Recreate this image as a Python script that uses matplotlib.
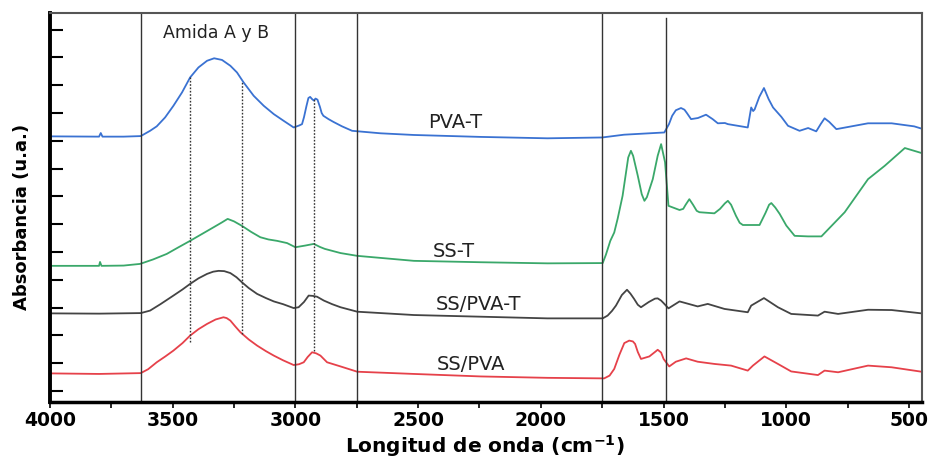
import matplotlib
matplotlib.use("Agg")
import matplotlib.pyplot as plt
import numpy as np

# wavenumbers (cm-1) and absorbance (a.u., offset traces)
pva_t_wn = [4000, 3800, 3793, 3786, 3700, 3630, 3592, 3565, 3531, 3497, 3462, 3429,
            3395, 3360, 3331, 3299, 3265, 3238, 3211, 3170, 3129, 3088, 3048, 3007,
            2985, 2973, 2965, 2955, 2947, 2940, 2932, 2925, 2918, 2910, 2900, 2893,
            2886, 2865, 2845, 2810, 2769, 2653, 2518, 2245, 1973, 1750, 1661, 1497,
            1478, 1465, 1450, 1429, 1415, 1405, 1388, 1360, 1327, 1300, 1279, 1250,
            1238, 1157, 1143, 1135, 1129, 1110, 1091, 1072, 1054, 1020, 993, 946, 911,
            878, 860, 844, 825, 796, 667, 571, 479, 442]
pva_t_abs = [9.56, 9.55, 9.68, 9.55, 9.55, 9.57, 9.76, 9.92, 10.24, 10.66, 11.14, 11.68,
             12.04, 12.28, 12.37, 12.31, 12.10, 11.86, 11.50, 11.02, 10.66, 10.36, 10.12, 9.88,
             9.95, 10.00, 10.25, 10.65, 10.94, 10.98, 10.90, 10.85, 10.92, 10.88, 10.62, 10.40,
             10.30, 10.18, 10.08, 9.92, 9.76, 9.67, 9.61, 9.54, 9.49, 9.52, 9.62, 9.70,
             10.00, 10.30, 10.50, 10.58, 10.52, 10.40, 10.18, 10.22, 10.34, 10.18, 10.03, 10.04,
             10.00, 9.88, 10.60, 10.47, 10.53, 10.98, 11.30, 10.90, 10.60, 10.26, 9.94, 9.76, 9.86,
             9.74, 10.00, 10.21, 10.08, 9.82, 10.03, 10.03, 9.92, 9.82]

ss_t_wn = [4000, 3800, 3796, 3790, 3700, 3633, 3580, 3524, 3480, 3429, 3380, 3333,
           3300, 3276, 3250, 3218, 3180, 3143, 3110, 3075, 3034, 3000, 2960, 2925,
           2900, 2880, 2816, 2748, 2517, 2245, 1973, 1748, 1735, 1717, 1701,
           1687, 1667, 1644, 1633, 1624, 1605, 1589, 1578, 1568, 1544, 1524, 1510,
           1494, 1480, 1435, 1420, 1410, 1395, 1380, 1365, 1354, 1293, 1270, 1250,
           1238, 1225, 1205, 1190, 1177, 1109, 1085, 1070, 1061, 1045, 1027, 1000,
           966, 911, 857, 762, 667, 599, 517, 449]
ss_t_abs = [4.90, 4.90, 5.04, 4.90, 4.91, 4.97, 5.13, 5.33, 5.55, 5.80, 6.05, 6.29,
            6.46, 6.59, 6.50, 6.34, 6.12, 5.93, 5.85, 5.80, 5.72, 5.57, 5.63, 5.69,
            5.58, 5.51, 5.36, 5.26, 5.08, 5.03, 4.99, 5.00, 5.30, 5.80, 6.10,
            6.60, 7.42, 8.80, 9.04, 8.86, 8.14, 7.48, 7.24, 7.37, 8.02, 8.86, 9.28,
            8.63, 7.06, 6.91, 6.95, 7.10, 7.30, 7.10, 6.88, 6.83, 6.79, 6.95, 7.15,
            7.24, 7.10, 6.70, 6.45, 6.37, 6.37, 6.80, 7.10, 7.16, 7.00, 6.77, 6.35,
            5.98, 5.96, 5.96, 6.83, 8.02, 8.50, 9.14, 8.96]

ss_pva_t_wn = [4000, 3800, 3630, 3592, 3550, 3497, 3460, 3429, 3395, 3360, 3335, 3313,
               3290, 3265, 3240, 3218, 3190, 3156, 3120, 3088, 3050, 3007, 2987, 2965,
               2946, 2930, 2912, 2884, 2850, 2816, 2748, 2517, 2245, 1973, 1748, 1728,
               1710, 1694, 1670, 1649, 1635, 1620, 1605, 1592, 1560, 1535, 1524, 1510,
               1500, 1480, 1435, 1361, 1320, 1252, 1157, 1143, 1091, 1034, 980, 871,
               844, 789, 667, 571, 449]
ss_pva_t_abs = [3.19, 3.18, 3.20, 3.29, 3.52, 3.83, 4.05, 4.25, 4.45, 4.61, 4.69, 4.72,
                4.71, 4.64, 4.49, 4.31, 4.10, 3.89, 3.74, 3.62, 3.52, 3.38, 3.41, 3.60,
                3.83, 3.82, 3.79, 3.65, 3.52, 3.41, 3.25, 3.13, 3.07, 3.01, 3.01, 3.11,
                3.28, 3.47, 3.85, 4.04, 3.90, 3.71, 3.50, 3.41, 3.60, 3.72, 3.73, 3.65,
                3.56, 3.37, 3.62, 3.44, 3.53, 3.35, 3.23, 3.47, 3.74, 3.41, 3.17, 3.11,
                3.25, 3.17, 3.32, 3.31, 3.19]

ss_pva_wn = [4000, 3800, 3630, 3600, 3565, 3530, 3497, 3460, 3429, 3395, 3360, 3325,
             3293, 3280, 3265, 3245, 3224, 3190, 3156, 3120, 3088, 3050, 3007, 2985,
             2966, 2950, 2932, 2915, 2898, 2871, 2816, 2748, 2517, 2245, 1973, 1742,
             1720, 1701, 1680, 1660, 1640, 1625, 1616, 1605, 1592, 1558, 1535, 1524,
             1510, 1500, 1477, 1450, 1408, 1361, 1293, 1225, 1157, 1136, 1089, 1034,
             980, 871, 844, 789, 667, 571, 449]
ss_pva_abs = [1.03, 1.01, 1.04, 1.18, 1.43, 1.64, 1.85, 2.12, 2.39, 2.62, 2.81, 2.97,
              3.05, 3.02, 2.93, 2.72, 2.51, 2.25, 2.03, 1.83, 1.67, 1.50, 1.33, 1.36,
              1.43, 1.62, 1.79, 1.75, 1.67, 1.43, 1.28, 1.09, 1.01, 0.92, 0.87, 0.85,
              0.95, 1.19, 1.70, 2.12, 2.21, 2.18, 2.09, 1.80, 1.55, 1.64, 1.80, 1.88,
              1.78, 1.55, 1.28, 1.45, 1.57, 1.45, 1.37, 1.31, 1.13, 1.31, 1.64, 1.37,
              1.10, 0.97, 1.13, 1.07, 1.31, 1.25, 1.09]

series_names = ["PVA-T", "SS-T", "SS/PVA-T", "SS/PVA"]
label_pos = [(2347, 10.08), (2356, 5.47), (2253, 3.53), (2286, 1.37)]

region_lines = [3630, 3000, 2750, 1750]
dotted_lines = [(3430, 2.16, 11.73), (3218, 2.45, 11.51), (2925, 1.84, 10.90)]

fig = plt.figure(figsize=(9.32, 4.6), dpi=100)
ax = fig.add_axes([0.0536, 0.1239, 0.9357, 0.8457])

ax.plot(pva_t_wn, pva_t_abs, color="#3a72d2", lw=1.3)
ax.plot(ss_t_wn, ss_t_abs, color="#3aa86a", lw=1.3)
ax.plot(ss_pva_t_wn, ss_pva_t_abs, color="#444444", lw=1.3)
ax.plot(ss_pva_wn, ss_pva_abs, color="#e6414a", lw=1.3)

for x in region_lines:
    ax.axvline(x, color="#333333", lw=1.0)
ax.axvline(1490, ymax=0.987, color="#333333", lw=1.0)

for x, y0, y1 in dotted_lines:
    ax.plot([x, x], [y0, y1], color="#333333", lw=1.0, ls=(0, (1.2, 1.2)))

for name, (x, y) in zip(series_names, label_pos):
    ax.text(x, y, name, fontsize=14, ha="center", va="center", color="#222222")

ax.text(3322, 13.31, "Amida A y B", fontsize=12.5, ha="center", va="center", color="#222222")

ax.set_xlim(4000, 447)
ax.set_ylim(0, 14)
ax.set_xticks([4000, 3500, 3000, 2500, 2000, 1500, 1000, 500])
ax.set_xticks(np.arange(3750, 400, -500), minor=True)
ax.set_yticks(np.arange(0.4, 14, 1.0))
ax.set_yticklabels([])
ax.tick_params(axis="y", direction="in", length=9, width=1.5)
ax.tick_params(axis="x", which="major", direction="out", length=4, width=1.2, pad=2)
ax.tick_params(axis="x", which="minor", direction="out", length=4, width=1.2)
for lab in ax.get_xticklabels():
    lab.set_fontweight("bold")
    lab.set_fontsize(13.5)

ax.spines["left"].set_linewidth(2.8)
ax.spines["bottom"].set_linewidth(2.5)
ax.spines["top"].set_color("#555555")
ax.spines["right"].set_color("#555555")
ax.spines["top"].set_linewidth(1.5)
ax.spines["right"].set_linewidth(1.5)

ax.set_xlabel("Longitud de onda (cm$^{\\mathbf{-1}}$)", fontsize=14.5, fontweight="bold")
ax.xaxis.label.set_va("baseline")
ax.xaxis.set_label_coords(0.499, -0.1285)
ax.set_ylabel("Absorbancia (u.a.)", fontsize=13, fontweight="bold")
ax.yaxis.set_label_coords(-0.022, 0.478)

fig.savefig("out.png", dpi=100)
plt.close(fig)
